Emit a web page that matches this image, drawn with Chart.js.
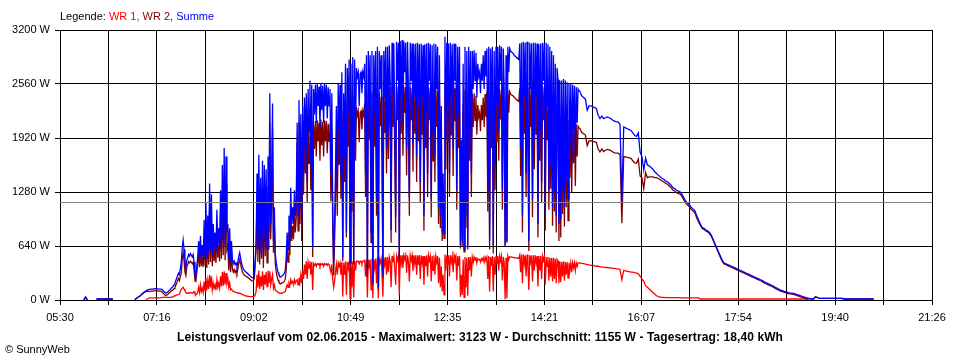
<!DOCTYPE html>
<html>
<head>
<meta charset="utf-8">
<script src="https://cdn.jsdelivr.net/npm/chart.js@4.4.1/dist/chart.umd.min.js"></script>
<style>
  body { margin: 0; background: #fff; }
  #wrap { position: relative; width: 960px; height: 360px; }
  #c { position: absolute; left: 0; top: 0; }
  .txt { position: absolute; font-family: "Liberation Sans", Arial, sans-serif; white-space: nowrap; color: #000; }
  #legend { left: 60px; top: 10px; font-size: 11px; }
  #title { left: 0; width: 960px; text-align: center; top: 330px; font-size: 12px; font-weight: bold; letter-spacing: 0.1px; }
  #copy { left: 5px; top: 343px; font-size: 11px; }
</style>
</head>
<body>
<div id="wrap">
  <canvas id="c" width="960" height="360"></canvas>
  <div class="txt" id="legend">Legende: <span style="color:#ff0000">WR 1, </span><span style="color:#800000">WR 2, </span><span style="color:#0000ff">Summe</span></div>
  <div class="txt" id="title">Leistungsverlauf vom 02.06.2015 - Maximalwert: 3123 W - Durchschnitt: 1155 W - Tagesertrag: 18,40 kWh</div>
  <div class="txt" id="copy">© SunnyWeb</div>
</div>
<script>
const xMin = 330;   // 05:30, minutes since midnight
const xMax = 1286;  // 21:26
const xTickLabels = ['05:30', '07:16', '09:02', '10:49', '12:35', '14:21', '16:07', '17:54', '19:40', '21:26'];
const yTicks = [0, 640, 1280, 1920, 2560, 3200];
const yTickLabels = ['0 W', '640 W', '1280 W', '1920 W', '2560 W', '3200 W'];
const avgW = 1155;

// sample times: every 2 min 05:50-07:28, every minute 07:30-14:59, every 2 min 15:00-20:22
const times = [];
for (let t = 350; t < 450; t += 2) times.push(t);
for (let t = 450; t < 900; t++) times.push(t);
for (let t = 900; t <= 1222; t += 2) times.push(t);

// Summe (W)
const summe = [
  // 05:50 .. 07:28 (2 min)
  null,null,null,0,35,0,null,null,null,null,
  12,12,12,12,12,12,12,12,12,12,
  null,null,null,null,null,null,null,null,null,null,null,
  5,20,35,50,70,90,105,120,125,130,130,135,135,130,130,125,100,80,95,
  // 07:30 (1 min)
  115,125,140,150,160,180,200,230,260,290,320,300,380,450,620,710,600,440,380,470,500,540,520,550,530,510,540,450,300,280,
  // 08:00
  400,520,700,480,760,500,650,480,950,520,1150,500,1000,550,1380,600,1250,520,900,600,800,560,1070,650,850,600,1300,650,1600,700,
  // 08:30
  1800,650,1700,800,900,500,850,450,700,480,430,460,420,440,400,450,520,560,500,440,400,370,350,340,330,320,310,300,290,280,
  // 09:00
  270,265,260,300,480,700,1500,600,1720,550,1450,650,1650,500,1600,700,1550,600,1700,800,2450,900,1400,2330,700,1100,550,450,380,330,
  // 09:30
  300,280,270,280,290,300,320,350,500,800,600,1000,700,1330,900,1100,900,1300,1000,1200,2100,1000,2370,1100,2200,900,2300,1500,2400,1800,
  // 10:00
  2450,1400,2500,2000,2600,1600,2550,630,2500,2200,2550,2100,2560,2300,2530,2050,2570,2250,2540,2100,2560,2300,2550,2150,2520,2300,2500,1500,2450,1100,
  // 10:30
  440,900,1500,2300,1300,2560,2000,2550,1500,2700,500,2450,1700,2800,800,2750,2200,2850,450,2800,1200,2880,450,2850,2000,2750,2650,2700,2300,2680,
  // 11:00
  2700,2450,2700,2650,2800,1500,2900,300,2950,2300,2900,800,2950,200,2900,2200,2950,1200,3000,150,2950,2500,2900,2000,300,2950,2400,3000,1800,3000,
  // 11:30
  2000,3020,2600,830,3050,2500,3040,2100,980,3060,2600,3050,510,3070,2400,3080,2090,3060,2700,3050,1800,3060,2500,1220,3050,2600,3040,1860,3030,2400,
  // 12:00
  3040,1700,3050,2300,3030,1400,3040,2400,3020,1000,3030,2200,3040,1500,3050,2600,3030,1200,3020,2000,3040,1700,3030,2500,3000,1100,2900,1000,2300,800,
  // 12:30
  1500,790,3120,1900,3050,2300,3040,1500,3050,2400,3030,1800,3040,2600,3030,1300,3000,2200,3000,650,1900,700,2800,600,3000,1000,2950,650,3000,2000,
  // 13:00
  2950,1500,2950,2500,2960,2600,2930,2400,2800,2650,2700,2450,2800,2600,2900,2500,2950,2650,2980,1300,3000,700,2980,2200,3000,650,2950,1600,3000,2300,
  // 13:30
  3000,2000,3020,2600,3000,1300,2980,2500,650,2900,700,3000,2700,2980,2950,2940,2930,2920,2900,2890,2880,2870,2860,2850,3040,1800,3050,1000,3060,2400,
  // 14:00
  3050,1500,3060,2200,700,3050,2500,3040,1200,3050,1900,3050,2400,3040,900,3030,2000,3040,1400,3050,2600,3040,1000,3050,2300,3030,1300,3000,1600,2950,
  // 14:30
  1100,2900,1300,2800,1000,2750,2610,900,2600,950,2600,1300,2620,1100,2600,1400,2580,1200,2570,1800,2560,1600,2550,2000,2540,1700,2520,2100,2500,2480,
  // 15:00 (2 min)
  2470,2420,2400,2380,2250,2300,2300,2290,2280,2270,
  2190,2150,2180,2150,2160,2170,2160,2150,2130,2120,
  2110,2110,2080,1150,2050,2040,2030,2020,2010,1980,
  1950,1940,1980,1750,1700,1540,1680,1600,1590,1570,
  1550,1520,1500,1480,1460,1440,1430,1410,1400,1380,
  1360,1330,1320,1300,1290,1280,1250,1210,1170,1150,
  1130,1100,1080,1060,1000,950,900,860,850,830,
  820,800,770,720,670,620,570,520,470,440,
  430,420,410,400,390,380,370,360,350,340,
  330,320,310,300,290,280,270,260,250,240,
  230,215,205,195,185,175,165,150,140,128,
  118,110,102,96,90,85,82,78,72,65,
  58,50,42,35,28,22,16,12,12,35,
  30,22,20,20,20,20,20,20,20,20,
  20,20,20,20,18,12,12,12,12,12,
  12,12,12,12,12,12,12,12,12,12,12,12
];

// WR 1 (W)
const wr1 = [
  // 05:50 .. 07:28 (2 min)
  null,null,null,null,null,null,null,null,null,null,
  null,null,null,null,null,null,null,null,null,null,
  null,null,null,null,null,null,null,null,null,null,
  null,null,null,null,null,null,null,
  5,15,25,25,25,25,25,25,25,30,30,30,30,
  // 07:30 (1 min)
  30,30,35,35,40,45,50,55,60,60,65,70,100,130,140,150,130,110,90,80,80,85,80,90,85,80,90,100,70,60,
  // 08:00
  70,90,150,90,180,100,140,90,220,110,260,120,230,130,300,150,280,120,200,140,180,120,240,150,200,140,280,160,330,170,
  // 08:30
  340,180,320,200,250,150,200,120,130,110,100,100,95,90,85,85,80,80,75,70,65,60,55,50,50,45,45,40,40,40,
  // 09:00
  40,40,40,45,60,100,300,150,350,130,280,160,340,120,300,180,330,160,350,200,340,180,250,300,140,180,120,110,100,90,
  // 09:30
  85,80,80,80,85,90,95,100,140,180,150,200,170,240,200,220,180,240,200,230,240,180,260,200,300,200,350,250,420,300,
  // 10:00
  460,250,450,380,460,300,450,120,430,410,430,400,430,420,430,400,430,420,430,400,430,420,430,410,430,420,420,330,420,250,
  // 10:30
  150,220,330,420,300,440,400,440,300,450,40,440,300,460,60,450,380,460,20,460,150,460,30,460,350,460,460,460,430,460,
  // 11:00
  460,430,460,460,470,280,480,30,480,400,480,120,490,20,480,380,490,200,500,20,490,440,490,330,40,500,420,510,300,510,
  // 11:30
  330,510,460,150,520,450,520,380,180,520,470,520,60,530,430,530,380,530,480,530,320,530,450,220,530,470,530,340,530,430,
  // 12:00
  530,300,530,420,530,250,530,440,520,180,520,400,530,280,530,470,520,220,520,350,530,300,520,450,520,200,500,150,400,100,
  // 12:30
  300,60,540,350,530,430,530,280,530,450,520,330,530,480,520,230,520,400,520,40,300,60,480,30,510,150,500,50,510,350,
  // 13:00
  510,280,510,450,510,470,510,440,490,480,480,450,490,470,500,450,510,480,510,250,520,100,510,400,520,100,510,300,520,430,
  // 13:30
  520,350,520,460,520,230,510,440,10,500,20,520,480,510,510,510,505,505,500,500,500,500,495,495,530,330,540,200,540,430,
  // 14:00
  530,280,540,400,120,530,450,530,220,530,350,530,440,520,160,520,350,520,250,520,470,520,180,510,400,510,230,500,280,500,
  // 14:30
  220,500,250,490,200,480,460,200,460,210,450,280,460,230,450,300,450,260,440,350,440,330,440,380,440,350,440,400,440,440,
  // 15:00 (2 min)
  440,435,430,425,420,415,412,410,405,400,
  400,395,390,390,385,385,380,380,375,375,
  370,370,360,240,350,345,340,335,330,330,
  325,320,310,280,250,220,170,150,130,110,
  90,70,50,40,35,30,30,28,28,28,
  28,28,28,28,28,25,25,25,25,25,
  25,25,25,25,25,25,12,12,12,12,
  12,12,12,12,12,12,12,12,12,12,12,12,12,12,12,12,12,12,12,12,12,12,12,12,12,12,12,12,
  12,12,12,12,12,12,12,12,12,12,12,12,12,12,12,12,12,12,12,12,12,12,12,12,12,12,12,12,
  null,null,null,null,null,null,null,null,null,null,null,null,null,null,null,null,null,null,
  null,null,null,null,null,null,null,null,null,null,null,null,null,null,null,null,null,null
];

// WR 2 is the rest of the sum
const wr2 = summe.map((s, i) => (s == null ? null : s - (wr1[i] || 0)));

function pts(arr) {
  return arr.map((v, i) => ({ x: times[i], y: v }));
}

const xTickValues = [];
for (let i = 0; i <= 18; i++) xTickValues.push(xMin + i * (xMax - xMin) / 18);

Chart.defaults.font.family = '"Liberation Sans", Arial, sans-serif';
Chart.defaults.font.size = 11;
Chart.defaults.color = '#000';

new Chart(document.getElementById('c'), {
  type: 'line',
  data: {
    datasets: [
      { label: 'Durchschnitt', data: [{ x: xMin, y: avgW }, { x: xMax, y: avgW }], borderColor: '#808080', borderWidth: 1, order: 0 },
      { label: 'Summe', data: pts(summe), borderColor: '#0000ff', order: 1 },
      { label: 'WR 2', data: pts(wr2), borderColor: '#800000', order: 2 },
      { label: 'WR 1', data: pts(wr1), borderColor: '#ff0000', order: 3 }
    ]
  },
  options: {
    responsive: false,
    animation: false,
    devicePixelRatio: 1,
    spanGaps: false,
    layout: { padding: { top: 30, right: 28, left: 0, bottom: 0 } },
    elements: {
      point: { radius: 0 },
      line: { borderWidth: 1.3, tension: 0, fill: false }
    },
    plugins: {
      legend: { display: false },
      tooltip: { enabled: false }
    },
    scales: {
      x: {
        type: 'linear',
        min: xMin,
        max: xMax,
        z: 1,
        afterBuildTicks: (s) => { s.ticks = xTickValues.map(v => ({ value: v })); },
        afterFit: (s) => { s.height = 60; },
        grid: { color: '#000', lineWidth: 1, tickLength: 5 },
        border: { color: '#000' },
        ticks: {
          autoSkip: false,
          maxRotation: 0,
          padding: 6,
          callback: (v, i) => (i % 2 === 0 ? xTickLabels[i / 2] : '')
        }
      },
      y: {
        min: 0,
        max: 3200,
        z: 1,
        afterBuildTicks: (s) => { s.ticks = yTicks.map(v => ({ value: v })); },
        afterFit: (s) => { s.width = 60; },
        grid: { color: '#000', lineWidth: 1, tickLength: 5 },
        border: { color: '#000' },
        ticks: {
          padding: 5,
          callback: (v, i) => yTickLabels[i]
        }
      }
    }
  }
});
</script>
</body>
</html>
